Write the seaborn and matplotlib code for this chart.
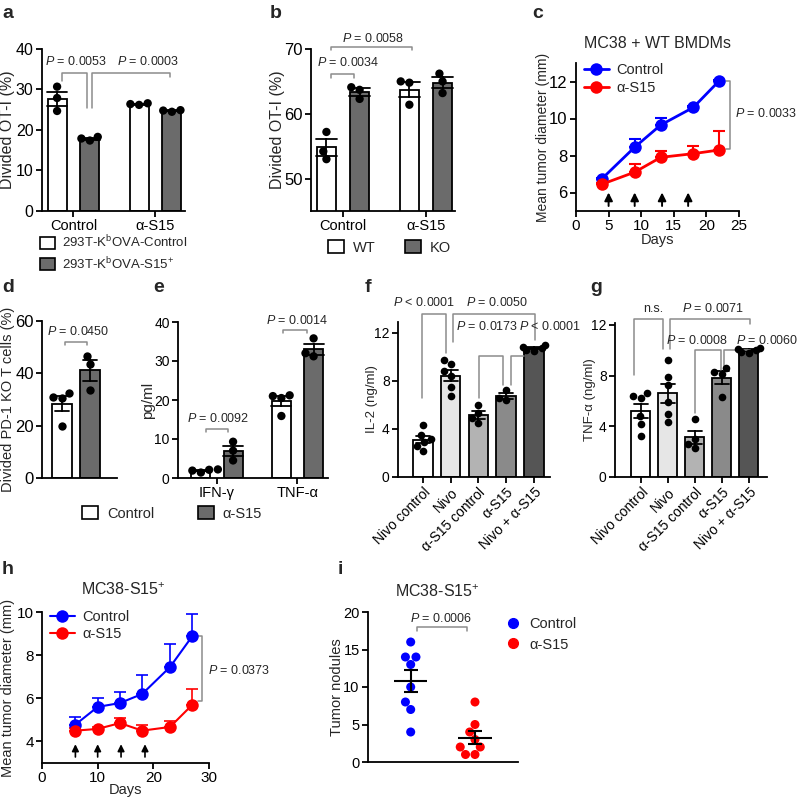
import warnings
import numpy as np
import pandas as pd
import matplotlib
matplotlib.use('Agg')
import matplotlib.pyplot as plt
import seaborn as sns
from matplotlib.patches import Patch
from matplotlib.lines import Line2D

warnings.filterwarnings('ignore')

# ---------------- data ----------------
# a
a_groups = ['Control', 'α-S15']
a_cells = ['293T-K$^{\\mathrm{b}}$OVA-Control', '293T-K$^{\\mathrm{b}}$OVA-S15$^{+}$']
a_ctrl_ovactrl = [30.7, 27.9, 24.7]
a_ctrl_ovas15 = [18.3, 17.4, 17.9]
a_s15_ovactrl = [26.4, 26.2, 26.6]
a_s15_ovas15 = [24.8, 24.5, 24.9]

# b
b_groups = ['Control', 'α-S15']
b_genotypes = ['WT', 'KO']
b_ctrl_wt = [57.2, 54.2, 53.0]
b_ctrl_ko = [64.1, 63.7, 62.3]
b_s15_wt = [65.0, 64.8, 61.4]
b_s15_ko = [66.2, 65.0, 63.2]

# c
c_days = [4, 9, 13, 18, 22]
c_ctrl_mean = [6.75, 8.45, 9.65, 10.6, 12.05]
c_ctrl_sem = [0.05, 0.45, 0.36, 0.05, 0.05]
c_s15_mean = [6.45, 7.1, 7.9, 8.1, 8.3]
c_s15_sem = [0.05, 0.45, 0.36, 0.4, 1.0]
c_arrow_days = [5, 9, 13.2, 17.2]

# d
d_groups = ['Control', 'α-S15']
d_ctrl = [31.0, 32.3, 30.5, 19.7]
d_s15 = [46.5, 43.5, 33.5]

# e
e_cytokines = ['IFN-γ', 'TNF-α']
e_ifn_ctrl = [1.4, 2.2, 2.1, 1.9]
e_ifn_s15 = [9.3, 7.0, 4.5]
e_tnf_ctrl = [21.0, 21.2, 20.5, 15.9]
e_tnf_s15 = [35.8, 32.0, 31.2]

# f / g
fg_treatments = ['Nivo control', 'Nivo', 'α-S15 control', 'α-S15', 'Nivo + α-S15']
f_nivo_ctrl = [4.3, 3.5, 3.2, 2.9, 2.6, 2.2]
f_nivo = [9.7, 9.4, 8.8, 8.4, 7.5, 6.7]
f_s15_ctrl = [6.0, 5.3, 4.9, 4.5]
f_s15 = [7.2, 6.6, 6.4]
f_combo = [11.0, 10.8, 10.7, 10.6, 10.5]
g_nivo_ctrl = [6.6, 6.4, 6.2, 4.8, 4.2, 3.2]
g_nivo = [9.2, 7.9, 7.25, 5.9, 5.0, 4.3]
g_s15_ctrl = [4.6, 3.0, 2.6, 2.3]
g_s15 = [8.6, 8.3, 8.1, 6.3]
g_combo = [10.2, 10.1, 10.0, 9.9, 9.8]

# h
h_days = [6, 10, 14, 18, 23, 27]
h_ctrl_mean = [4.78, 5.6, 5.78, 6.2, 7.45, 8.88]
h_ctrl_sem = [0.33, 0.43, 0.5, 0.88, 1.05, 1.05]
h_s15_mean = [4.5, 4.58, 4.85, 4.5, 4.67, 5.7]
h_s15_sem = [0.1, 0.08, 0.23, 0.27, 0.28, 0.74]
h_arrow_days = [6, 10, 14.2, 18.5]

# i
i_groups = ['Control', 'α-S15']
i_ctrl = [16, 14, 14, 13, 10, 8, 7, 4]
i_s15 = [8, 5, 4, 3, 2, 2, 1, 1]

# ---------------- style ----------------
sns.set_style('ticks')
plt.rcParams['font.family'] = ['Liberation Sans', 'DejaVu Sans']
plt.rcParams['mathtext.fontset'] = 'custom'
plt.rcParams['mathtext.rm'] = 'Liberation Sans'
plt.rcParams['mathtext.it'] = 'Liberation Sans:italic'
plt.rcParams['mathtext.bf'] = 'Liberation Sans:bold'
plt.rcParams['font.size'] = 10
plt.rcParams['axes.labelsize'] = 10.5

GRAY = '#6b6b6b'
BRK = '#8c8c8c'
W, H = 800, 801
fig = plt.figure(figsize=(8, 8.01), dpi=100)


def add_ax(l, t, r, b):
    ax = fig.add_axes([l / W, 1 - b / H, (r - l) / W, (b - t) / H])
    ax._px = (l, t, r, b)
    return ax


def style(ax, ysize=11, xsize=11):
    sns.despine(ax=ax)
    for s in ['left', 'bottom']:
        ax.spines[s].set_linewidth(1.3)
        ax.spines[s].set_color('black')
    ax.tick_params(width=1.3, length=4, pad=2, colors='black')
    ax.tick_params(axis='y', labelsize=ysize)
    ax.tick_params(axis='x', labelsize=xsize)


def ylab(ax, text, right_px, size):
    l, t, r, b = ax._px
    ax.set_ylabel(text, fontsize=size)
    ax.yaxis.set_label_coords((right_px - l) / (r - l), 0.5)


def xlab(ax, text, top_px):
    l, t, r, b = ax._px
    ax.set_xlabel(text)
    ax.xaxis.set_label_coords(0.5, (b - top_px) / (b - t))


def bracket(ax, x1, x2, y, y1, y2):
    ax.plot([x1, x1, x2, x2], [y1, y, y, y2], color=BRK, lw=1.1, clip_on=False)


def ptext(ax, x, y, s, size=9):
    ax.text(x, y, s, ha='center', va='center', fontsize=size, clip_on=False)


def grouped(ax, groups, hues, vals, colors, gap):
    rows = []
    for (g, h), v in vals.items():
        rows += [(g, h, x) for x in v]
    df = pd.DataFrame(rows, columns=['group', 'hue', 'value'])
    sns.barplot(df, x='group', y='value', hue='hue', order=groups, hue_order=hues,
                palette=colors, errorbar='se', capsize=0.5, width=0.8, gap=gap,
                edgecolor='black', linewidth=1.3,
                err_kws={'color': 'black', 'linewidth': 1.3}, legend=False, ax=ax)
    sns.swarmplot(df, x='group', y='value', hue='hue', order=groups, hue_order=hues,
                  dodge=True, palette={h: 'black' for h in hues}, size=6,
                  legend=False, zorder=4, ax=ax)
    ax.set_xlabel('')


def single(ax, cats, vals, colors, width, size=6):
    rows = []
    for c, v in zip(cats, vals):
        rows += [(c, x) for x in v]
    df = pd.DataFrame(rows, columns=['cat', 'value'])
    sns.barplot(df, x='cat', y='value', hue='cat', order=cats, hue_order=cats,
                palette=colors, errorbar='se', capsize=0.5, width=width,
                edgecolor='black', linewidth=1.3,
                err_kws={'color': 'black', 'linewidth': 1.3}, legend=False, ax=ax)
    sns.swarmplot(df, x='cat', y='value', order=cats, color='black', size=size,
                  zorder=4, ax=ax)
    ax.set_xlabel('')


def panel_label(x, y, s):
    fig.text(x / W, 1 - y / H, s, fontsize=14, fontweight='bold', va='center', ha='left')


def box_handles():
    return [Patch(facecolor='white', edgecolor='black', linewidth=1.2),
            Patch(facecolor=GRAY, edgecolor='black', linewidth=1.2)]


# ---------------- a ----------------
ax = add_ax(42, 49, 185, 211)
grouped(ax, a_groups, a_cells,
        {('Control', a_cells[0]): a_ctrl_ovactrl, ('Control', a_cells[1]): a_ctrl_ovas15,
         ('α-S15', a_cells[0]): a_s15_ovactrl, ('α-S15', a_cells[1]): a_s15_ovas15},
        ['white', GRAY], 0.42)
ax.set_xlim(-0.384, 1.36)
ax.set_ylim(0, 40)
ax.set_yticks([0, 10, 20, 30, 40])
style(ax, 11.5, 10.5)
ylab(ax, 'Divided OT-I (%)', 15, 11.5)
bracket(ax, -0.144, 0.168, 34.0, 32.1, 25.4)
bracket(ax, 0.222, 1.177, 34.0, 25.4, 33.2)
ptext(ax, 0.03, 36.9, '$P$ = 0.0053')
ptext(ax, 0.91, 36.9, '$P$ = 0.0003')
fig.legend(box_handles(), a_cells,
           loc='upper left', bbox_to_anchor=(40 / W, 1 - 234 / H), frameon=False,
           handlelength=1.1, handleheight=1.0, handletextpad=0.6, labelspacing=0.35,
           borderpad=0, borderaxespad=0, fontsize=9.5)
panel_label(2, 14, 'a')

# ---------------- b ----------------
ax = add_ax(311, 49, 455, 211)
grouped(ax, b_groups, b_genotypes,
        {('Control', 'WT'): b_ctrl_wt, ('Control', 'KO'): b_ctrl_ko,
         ('α-S15', 'WT'): b_s15_wt, ('α-S15', 'KO'): b_s15_ko},
        ['white', GRAY], 0.43)
ax.set_xlim(-0.386, 1.35)
ax.set_ylim(45, 70)
ax.set_yticks([50, 60, 70])
style(ax, 12, 10.5)
ylab(ax, 'Divided OT-I (%)', 285, 11.5)
bracket(ax, -0.148, 0.136, 66.15, 65.6, 65.6)
bracket(ax, -0.148, 0.827, 70.35, 69.85, 69.85)
ptext(ax, 0.06, 67.9, '$P$ = 0.0034')
ptext(ax, 0.36, 71.6, '$P$ = 0.0058')
fig.legend(box_handles(), b_genotypes,
           loc='upper left', bbox_to_anchor=(328 / W, 1 - 240 / H), frameon=False, ncol=2,
           handlelength=1.1, handleheight=1.0, handletextpad=0.6, columnspacing=2.0,
           borderpad=0, borderaxespad=0, fontsize=10.5)
panel_label(270, 14, 'b')

# ---------------- c ----------------
ax = add_ax(576, 63, 739, 211)
c_df = pd.DataFrame({'Days': c_days * 2, 'diam': c_ctrl_mean + c_s15_mean,
                     'group': ['Control'] * len(c_days) + ['α-S15'] * len(c_days)})
sns.lineplot(c_df, x='Days', y='diam', hue='group', palette=['blue', 'red'],
             marker='o', markersize=9, markeredgewidth=0, linewidth=2,
             errorbar=None, legend=False, ax=ax, zorder=3)
ax.errorbar(c_days, c_ctrl_mean, yerr=[np.zeros(len(c_days)), c_ctrl_sem], fmt='none',
            ecolor='blue', elinewidth=1.5, capsize=4, capthick=1.5, zorder=2)
ax.errorbar(c_days, c_s15_mean, yerr=[np.zeros(len(c_days)), c_s15_sem], fmt='none',
            ecolor='red', elinewidth=1.5, capsize=4, capthick=1.5, zorder=2)
for d in c_arrow_days:
    ax.annotate('', xy=(d, 6.15), xytext=(d, 5.12),
                arrowprops=dict(arrowstyle='-|>', color='black', lw=1.4, mutation_scale=12))
ax.set_xlim(0, 25)
ax.set_ylim(5, 13)
ax.set_xticks([0, 5, 10, 15, 20, 25])
ax.set_yticks([6, 8, 10, 12])
style(ax, 12, 11)
xlab(ax, 'Days', 233)
ylab(ax, 'Mean tumor diameter (mm)', 550, 10)
ax.plot([23.0, 23.6, 23.6, 23.0], [12.05, 12.05, 8.36, 8.36], color=BRK, lw=1.1, clip_on=False)
ax.text(24.4, 10.27, '$P$ = 0.0033', ha='left', va='center', fontsize=9, clip_on=False)
ax.legend([Line2D([], [], color='blue', marker='o', markersize=9, lw=2, markeredgewidth=0),
           Line2D([], [], color='red', marker='o', markersize=9, lw=2, markeredgewidth=0)],
          ['Control', 'α-S15'], loc='upper left', bbox_to_anchor=(584 / W, 1 - 63 / H),
          bbox_transform=fig.transFigure, frameon=False, handlelength=1.7,
          handletextpad=0.5, labelspacing=0.25, borderpad=0, borderaxespad=0, fontsize=10.5)
fig.text(657 / W, 1 - 43 / H, 'MC38 + WT BMDMs', ha='center', va='center', fontsize=11.5)
panel_label(532, 14, 'c')

# ---------------- d ----------------
ax = add_ax(42, 321, 117, 478)
single(ax, d_groups, [d_ctrl, d_s15], ['white', GRAY], 0.71)
ax.set_xlim(-0.71, 1.96)
ax.set_ylim(0, 60)
ax.set_yticks([0, 20, 40, 60])
ax.set_xticks([])
style(ax, 12)
ylab(ax, 'Divided PD-1 KO T cells (%)', 15, 10.5)
bracket(ax, 0.107, 0.9, 52.0, 50.7, 50.7)
ptext(ax, 0.57, 55.9, '$P$ = 0.0450')
panel_label(2, 287, 'd')

# ---------------- e ----------------
ax = add_ax(178, 322, 328, 478)
grouped(ax, e_cytokines, d_groups,
        {('IFN-γ', 'Control'): e_ifn_ctrl, ('IFN-γ', 'α-S15'): e_ifn_s15,
         ('TNF-α', 'Control'): e_tnf_ctrl, ('TNF-α', 'α-S15'): e_tnf_s15},
        ['white', GRAY], 0.41)
ax.set_xlim(-0.484, 1.379)
ax.set_ylim(0, 40)
ax.set_yticks([0, 10, 20, 30, 40])
style(ax, 10, 10.5)
ylab(ax, 'pg/ml', 155, 11)
bracket(ax, -0.137, 0.137, 12.5, 11.9, 11.9)
bracket(ax, 0.824, 1.114, 37.9, 37.3, 37.3)
ptext(ax, 0.017, 15.3, '$P$ = 0.0092')
ptext(ax, 1.0, 40.5, '$P$ = 0.0014')
fig.legend(box_handles(), d_groups,
           loc='upper left', bbox_to_anchor=(82 / W, 1 - 506 / H), frameon=False, ncol=2,
           handlelength=1.1, handleheight=1.0, handletextpad=0.6, columnspacing=3.0,
           borderpad=0, borderaxespad=0, fontsize=10.5)
panel_label(153, 287, 'e')

# ---------------- f ----------------
fg_colors = ['white', '#e6e6e6', '#b3b3b3', '#8a8a8a', '#555555']
ax = add_ax(398, 322, 550, 477)
single(ax, fg_treatments, [f_nivo_ctrl, f_nivo, f_s15_ctrl, f_s15, f_combo], fg_colors, 0.7, 5.5)
ax.set_xlim(-0.9, 4.58)
ax.set_ylim(0, 12.9)
ax.set_yticks([0, 4, 8, 12])
style(ax, 10, 10)
ylab(ax, 'IL-2 (ng/ml)', 378, 9.5)
plt.setp(ax.get_xticklabels(), rotation=45, ha='right', rotation_mode='anchor')
bracket(ax, -0.05, 0.83, 13.6, 6.55, 10.28)
bracket(ax, 1.07, 4.04, 13.6, 11.24, 11.4)
bracket(ax, 2.02, 2.89, 10.05, 6.55, 7.65)
bracket(ax, 3.16, 3.66, 10.05, 7.65, 10.05)
ptext(ax, 0.05, 14.5, '$P$ < 0.0001')
ptext(ax, 2.67, 14.5, '$P$ = 0.0050')
ptext(ax, 2.3, 12.5, '$P$ = 0.0173')
ptext(ax, 4.6, 12.5, '$P$ < 0.0001')
panel_label(365, 287, 'f')

# ---------------- g ----------------
ax = add_ax(615, 323, 767, 477)
single(ax, fg_treatments, [g_nivo_ctrl, g_nivo, g_s15_ctrl, g_s15, g_combo], fg_colors, 0.7, 5.5)
ax.set_xlim(-0.96, 4.67)
ax.set_ylim(0, 12.15)
ax.set_yticks([0, 4, 8, 12])
style(ax, 10, 10)
ylab(ax, 'TNF-α (ng/ml)', 596, 9.5)
plt.setp(ax.get_xticklabels(), rotation=45, ha='right', rotation_mode='anchor')
bracket(ax, -0.25, 0.82, 12.49, 8.04, 10.13)
bracket(ax, 1.07, 4.04, 12.49, 10.13, 12.1)
bracket(ax, 2.0, 2.95, 10.0, 5.03, 8.43)
bracket(ax, 3.07, 4.04, 10.0, 8.43, 9.8)
ptext(ax, 0.44, 13.27, 'n.s.')
ptext(ax, 2.67, 13.27, '$P$ = 0.0071')
ptext(ax, 2.1, 10.8, '$P$ = 0.0008')
ptext(ax, 4.67, 10.8, '$P$ = 0.0060')
panel_label(590, 287, 'g')

# ---------------- h ----------------
ax = add_ax(42, 612, 209, 763)
h_df = pd.DataFrame({'Days': h_days * 2, 'diam': h_ctrl_mean + h_s15_mean,
                     'group': ['Control'] * len(h_days) + ['α-S15'] * len(h_days)})
sns.lineplot(h_df, x='Days', y='diam', hue='group', palette=['blue', 'red'],
             marker='o', markersize=9, markeredgewidth=0, linewidth=1.5,
             errorbar=None, legend=False, ax=ax, zorder=3)
ax.errorbar(h_days, h_ctrl_mean, yerr=[np.zeros(len(h_days)), h_ctrl_sem], fmt='none',
            ecolor='blue', elinewidth=1.2, capsize=4, capthick=1.2, zorder=2)
ax.errorbar(h_days, h_s15_mean, yerr=[np.zeros(len(h_days)), h_s15_sem], fmt='none',
            ecolor='red', elinewidth=1.2, capsize=4, capthick=1.2, zorder=2)
for d in h_arrow_days:
    ax.annotate('', xy=(d, 4.0), xytext=(d, 3.15),
                arrowprops=dict(arrowstyle='-|>', color='black', lw=1.2, mutation_scale=10))
ax.set_xlim(0, 30)
ax.set_ylim(3, 10)
ax.set_xticks([0, 10, 20, 30])
ax.set_yticks([4, 6, 8, 10])
style(ax, 11, 11)
xlab(ax, 'Days', 783)
ylab(ax, 'Mean tumor diameter (mm)', 15, 10.5)
ax.plot([28.06, 28.8, 28.8, 28.06], [8.9, 8.9, 5.86, 5.86], color=BRK, lw=1.1, clip_on=False)
ax.text(29.8, 7.31, '$P$ = 0.0373', ha='left', va='center', fontsize=9, clip_on=False)
ax.legend([Line2D([], [], color='blue', marker='o', markersize=9, lw=1.5, markeredgewidth=0),
           Line2D([], [], color='red', marker='o', markersize=9, lw=1.5, markeredgewidth=0)],
          ['Control', 'α-S15'], loc='upper left', bbox_to_anchor=(50 / W, 1 - 610 / H),
          bbox_transform=fig.transFigure, frameon=False, handlelength=1.7,
          handletextpad=0.5, labelspacing=0.2, borderpad=0, borderaxespad=0, fontsize=10.5)
fig.text(123 / W, 1 - 590 / H, 'MC38-S15$^{+}$', ha='center', va='center', fontsize=11.5)
panel_label(2, 570, 'h')

# ---------------- i ----------------
ax = add_ax(368, 612, 518, 762)
i_df = pd.DataFrame({'group': ['Control'] * len(i_ctrl) + ['α-S15'] * len(i_s15),
                     'nodules': i_ctrl + i_s15})
sns.swarmplot(i_df, x='group', y='nodules', hue='group', order=i_groups,
              palette=['blue', 'red'], size=6.5, legend=False, ax=ax)
for k, vals in enumerate([i_ctrl, i_s15]):
    m = np.mean(vals)
    se = np.std(vals, ddof=1) / np.sqrt(len(vals))
    ax.hlines(m, k - 0.26, k + 0.26, color='black', lw=1.5, zorder=5)
    ax.errorbar(k, m, yerr=se, color='black', capsize=4.7, elinewidth=1.5,
                capthick=1.5, zorder=5)
ax.set_xlim(-0.664, 1.669)
ax.set_ylim(0, 20)
ax.set_yticks([0, 5, 10, 15, 20])
ax.set_xticks([])
ax.set_xlabel('')
style(ax, 10.5)
ylab(ax, 'Tumor nodules', 344, 10.5)
bracket(ax, 0.1, 0.87, 18.0, 17.5, 17.5)
ptext(ax, 0.48, 19.2, '$P$ = 0.0006')
fig.legend([Line2D([], [], color='blue', marker='o', ls='', markersize=7),
            Line2D([], [], color='red', marker='o', ls='', markersize=7)],
           i_groups, loc='upper left', bbox_to_anchor=(506 / W, 1 - 617 / H), frameon=False,
           handlelength=1.0, handletextpad=0.6, labelspacing=0.45,
           borderpad=0, borderaxespad=0, fontsize=10.5)
fig.text(437 / W, 1 - 592 / H, 'MC38-S15$^{+}$', ha='center', va='center', fontsize=11.5)
panel_label(338, 570, 'i')

fig.savefig('out.png', dpi=100)
